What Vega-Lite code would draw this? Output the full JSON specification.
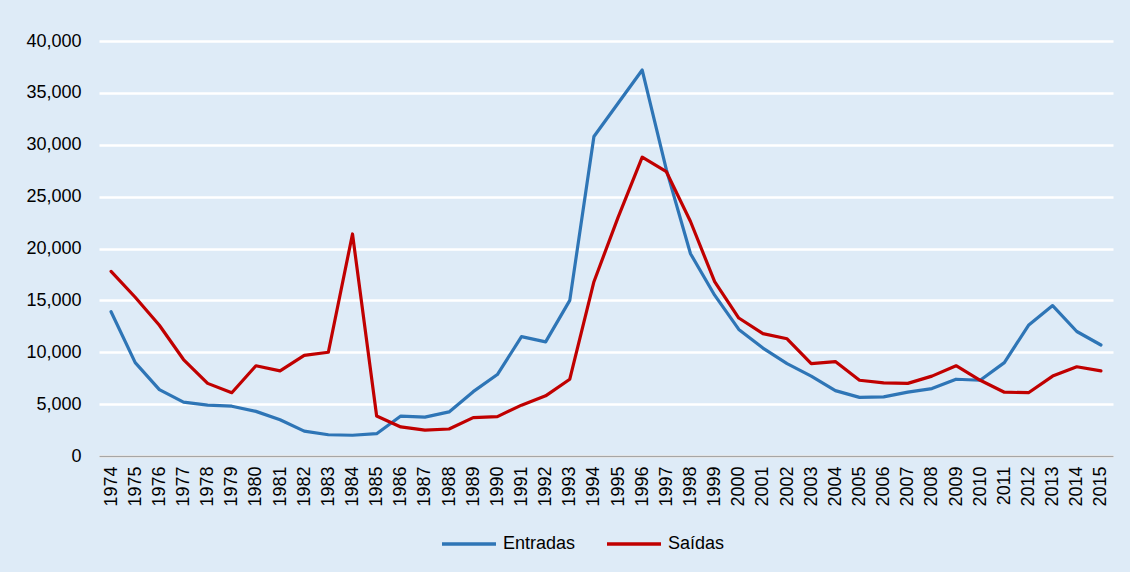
{
  "$schema": "https://vega.github.io/schema/vega-lite/v6.json",
  "autosize": "none",
  "width": 1014,
  "height": 415,
  "padding": {"left": 99, "top": 41, "right": 17, "bottom": 116},
  "background": "#DEEBF7",
  "config": {
    "view": {"stroke": null},
    "font": "Liberation Sans",
    "axis": {"labelFont": "Liberation Sans", "labelFontSize": 18, "labelColor": "#000000"},
    "legend": {"labelFont": "Liberation Sans", "labelFontSize": 18, "labelColor": "#000000"}
  },
  "datasets": {
    "serie": [
      {"ano": 1974, "serie": "Entradas", "valor": 13900}, {"ano": 1974, "serie": "Saídas", "valor": 17800},
      {"ano": 1975, "serie": "Entradas", "valor": 9000}, {"ano": 1975, "serie": "Saídas", "valor": 15300},
      {"ano": 1976, "serie": "Entradas", "valor": 6400}, {"ano": 1976, "serie": "Saídas", "valor": 12600},
      {"ano": 1977, "serie": "Entradas", "valor": 5200}, {"ano": 1977, "serie": "Saídas", "valor": 9300},
      {"ano": 1978, "serie": "Entradas", "valor": 4900}, {"ano": 1978, "serie": "Saídas", "valor": 7000},
      {"ano": 1979, "serie": "Entradas", "valor": 4800}, {"ano": 1979, "serie": "Saídas", "valor": 6100},
      {"ano": 1980, "serie": "Entradas", "valor": 4300}, {"ano": 1980, "serie": "Saídas", "valor": 8700},
      {"ano": 1981, "serie": "Entradas", "valor": 3500}, {"ano": 1981, "serie": "Saídas", "valor": 8200},
      {"ano": 1982, "serie": "Entradas", "valor": 2400}, {"ano": 1982, "serie": "Saídas", "valor": 9700},
      {"ano": 1983, "serie": "Entradas", "valor": 2050}, {"ano": 1983, "serie": "Saídas", "valor": 10000},
      {"ano": 1984, "serie": "Entradas", "valor": 2000}, {"ano": 1984, "serie": "Saídas", "valor": 21400},
      {"ano": 1985, "serie": "Entradas", "valor": 2150}, {"ano": 1985, "serie": "Saídas", "valor": 3850},
      {"ano": 1986, "serie": "Entradas", "valor": 3850}, {"ano": 1986, "serie": "Saídas", "valor": 2800},
      {"ano": 1987, "serie": "Entradas", "valor": 3750}, {"ano": 1987, "serie": "Saídas", "valor": 2500},
      {"ano": 1988, "serie": "Entradas", "valor": 4250}, {"ano": 1988, "serie": "Saídas", "valor": 2600},
      {"ano": 1989, "serie": "Entradas", "valor": 6200}, {"ano": 1989, "serie": "Saídas", "valor": 3700},
      {"ano": 1990, "serie": "Entradas", "valor": 7850}, {"ano": 1990, "serie": "Saídas", "valor": 3800},
      {"ano": 1991, "serie": "Entradas", "valor": 11500}, {"ano": 1991, "serie": "Saídas", "valor": 4900},
      {"ano": 1992, "serie": "Entradas", "valor": 11000}, {"ano": 1992, "serie": "Saídas", "valor": 5800},
      {"ano": 1993, "serie": "Entradas", "valor": 15000}, {"ano": 1993, "serie": "Saídas", "valor": 7400},
      {"ano": 1994, "serie": "Entradas", "valor": 30800}, {"ano": 1994, "serie": "Saídas", "valor": 16800},
      {"ano": 1995, "serie": "Entradas", "valor": 34000}, {"ano": 1995, "serie": "Saídas", "valor": 23000},
      {"ano": 1996, "serie": "Entradas", "valor": 37200}, {"ano": 1996, "serie": "Saídas", "valor": 28800},
      {"ano": 1997, "serie": "Entradas", "valor": 27600}, {"ano": 1997, "serie": "Saídas", "valor": 27400},
      {"ano": 1998, "serie": "Entradas", "valor": 19500}, {"ano": 1998, "serie": "Saídas", "valor": 22600},
      {"ano": 1999, "serie": "Entradas", "valor": 15500}, {"ano": 1999, "serie": "Saídas", "valor": 16800},
      {"ano": 2000, "serie": "Entradas", "valor": 12200}, {"ano": 2000, "serie": "Saídas", "valor": 13300},
      {"ano": 2001, "serie": "Entradas", "valor": 10400}, {"ano": 2001, "serie": "Saídas", "valor": 11800},
      {"ano": 2002, "serie": "Entradas", "valor": 8900}, {"ano": 2002, "serie": "Saídas", "valor": 11300},
      {"ano": 2003, "serie": "Entradas", "valor": 7700}, {"ano": 2003, "serie": "Saídas", "valor": 8900},
      {"ano": 2004, "serie": "Entradas", "valor": 6300}, {"ano": 2004, "serie": "Saídas", "valor": 9100},
      {"ano": 2005, "serie": "Entradas", "valor": 5650}, {"ano": 2005, "serie": "Saídas", "valor": 7300},
      {"ano": 2006, "serie": "Entradas", "valor": 5700}, {"ano": 2006, "serie": "Saídas", "valor": 7050},
      {"ano": 2007, "serie": "Entradas", "valor": 6150}, {"ano": 2007, "serie": "Saídas", "valor": 7000},
      {"ano": 2008, "serie": "Entradas", "valor": 6500}, {"ano": 2008, "serie": "Saídas", "valor": 7700},
      {"ano": 2009, "serie": "Entradas", "valor": 7400}, {"ano": 2009, "serie": "Saídas", "valor": 8700},
      {"ano": 2010, "serie": "Entradas", "valor": 7300}, {"ano": 2010, "serie": "Saídas", "valor": 7300},
      {"ano": 2011, "serie": "Entradas", "valor": 9000}, {"ano": 2011, "serie": "Saídas", "valor": 6150},
      {"ano": 2012, "serie": "Entradas", "valor": 12600}, {"ano": 2012, "serie": "Saídas", "valor": 6100},
      {"ano": 2013, "serie": "Entradas", "valor": 14500}, {"ano": 2013, "serie": "Saídas", "valor": 7700},
      {"ano": 2014, "serie": "Entradas", "valor": 12000}, {"ano": 2014, "serie": "Saídas", "valor": 8600},
      {"ano": 2015, "serie": "Entradas", "valor": 10700}, {"ano": 2015, "serie": "Saídas", "valor": 8200}
    ]
  },
  "data": {"name": "serie"},
  "mark": {"type": "line", "strokeWidth": 3.2, "strokeJoin": "round", "strokeCap": "round"},
  "encoding": {
    "x": {
      "field": "ano", "type": "ordinal",
      "scale": {"type": "point", "padding": 0.5},
      "axis": {
        "title": null, "labelAngle": -90, "labelPadding": 10, "ticks": false,
        "domainColor": "#A6A6A6", "domainWidth": 1.5, "grid": false
      }
    },
    "y": {
      "field": "valor", "type": "quantitative",
      "scale": {"domain": [0, 40000], "nice": false},
      "axis": {
        "title": null, "values": [0, 5000, 10000, 15000, 20000, 25000, 30000, 35000, 40000],
        "format": ",.0f", "domain": false, "ticks": false, "labelPadding": 18,
        "gridColor": "#FFFFFF", "gridWidth": 2.5, "gridOpacity": 1
      }
    },
    "color": {
      "field": "serie", "type": "nominal",
      "scale": {"domain": ["Entradas", "Saídas"], "range": ["#2E75B6", "#C00000"]},
      "legend": {
        "title": null, "orient": "none", "direction": "horizontal",
        "legendX": 341, "legendY": 474,
        "symbolType": "stroke", "symbolSize": 2916, "symbolStrokeWidth": 3.5,
        "labelOffset": 5, "columnPadding": 24
      }
    }
  }
}
